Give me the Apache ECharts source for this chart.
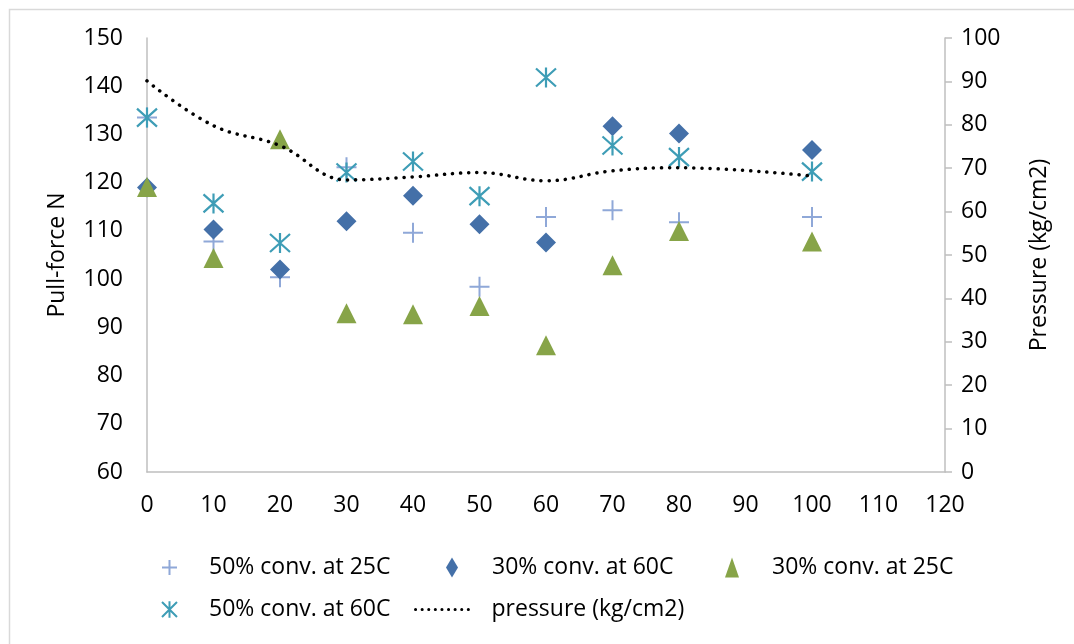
<!DOCTYPE html>
<html>
<head>
<meta charset="utf-8">
<script src="https://cdn.jsdelivr.net/npm/echarts@6/dist/echarts.min.js"></script>
<style>
  html, body { margin: 0; padding: 0; background: #ffffff; }
  #chart { width: 1074px; height: 644px; }
</style>
</head>
<body>
<div id="chart"></div>
<script>
// Fill ratio (x) for every measured run
const xValues = [0, 10, 20, 30, 40, 50, 60, 70, 80, 100];

// Pull-force (N) per run
const conv50at25 = [133.5, 107.8, 100.4, 123.2, 109.6, 98.4, 112.9, 114.3, 111.8, 112.9];
const conv30at60 = [119.0, 110.3, 102.0, 112.0, 117.3, 111.4, 107.6, 131.7, 130.2, 126.8];
const conv30at25 = [119.1, 104.4, 129.0, 92.9, 92.7, 94.4, 86.3, 102.9, 110.0, 107.8];
const conv50at60 = [133.5, 115.7, 107.5, 122.1, 124.4, 117.2, 141.8, 127.7, 125.3, 122.3];

// Applied pressure (kg/cm2), right axis
const pressure = [90.1, 79.8, 75.2, 67.3, 68.0, 69.0, 67.1, 69.4, 70.1, 68.2];

// Axis ranges
const xRange = { min: 0, max: 120, step: 10 };
const forceRange = { min: 60, max: 150, step: 10 };
const pressureRange = { min: 0, max: 100, step: 10 };

const seriesNames = ['50% conv. at 25C', '30% conv. at 60C', '30% conv. at 25C', '50% conv. at 60C', 'pressure (kg/cm2)'];

const pair = (ys) => xValues.map((x, i) => [x, ys[i]]);

const FONT = 'Open Sans';
const axisGray = '#BFBFBF';

const plusPath = 'path://M10,0L10,20M0,10L20,10';
const starPath = 'path://M10,0L10,20M1,1L19,19M19,1L1,19';

function legendFor(name, left, top, w, h, pad, extra) {
  return Object.assign({
    data: [name],
    left: left,
    top: top,
    itemWidth: w,
    itemHeight: h,
    padding: 0,
    textStyle: { fontFamily: FONT, fontSize: 23, color: '#000', padding: [0, 0, 0, pad] }
  }, extra || {});
}

const chart = echarts.init(document.getElementById('chart'), null, { renderer: 'canvas' });

chart.setOption({
  backgroundColor: '#ffffff',
  animation: false,
  graphic: [{
    type: 'rect',
    left: 7, top: 7,
    shape: { width: 1200, height: 800 },
    style: { fill: 'none', stroke: '#D9D9D9', lineWidth: 1.5 },
    silent: true
  }],
  grid: { left: 147, right: 129, top: 38, bottom: 172 },
  xAxis: {
    type: 'value',
    min: xRange.min, max: xRange.max, interval: xRange.step,
    axisLine: { show: true, onZero: false, lineStyle: { color: axisGray, width: 1.5 } },
    axisTick: { show: false },
    splitLine: { show: false },
    axisLabel: { fontFamily: FONT, fontSize: 23, color: '#000', margin: 22 }
  },
  yAxis: [{
    type: 'value',
    position: 'left',
    min: forceRange.min, max: forceRange.max, interval: forceRange.step,
    name: 'Pull-force N',
    nameLocation: 'middle',
    nameGap: 78,
    nameTextStyle: { fontFamily: FONT, fontSize: 23, color: '#000' },
    axisLine: { show: true, lineStyle: { color: axisGray, width: 1.5 } },
    axisTick: { show: false },
    splitLine: { show: false },
    axisLabel: { fontFamily: FONT, fontSize: 23, color: '#000', margin: 24 }
  }, {
    type: 'value',
    position: 'right',
    min: pressureRange.min, max: pressureRange.max, interval: pressureRange.step,
    name: 'Pressure (kg/cm2)',
    nameLocation: 'middle',
    nameGap: 83,
    nameRotate: 90,
    nameTextStyle: { fontFamily: FONT, fontSize: 23, color: '#000' },
    axisLine: { show: true, lineStyle: { color: axisGray, width: 1.5 } },
    axisTick: { show: true, length: 7, inside: false, lineStyle: { color: axisGray, width: 1.5 } },
    splitLine: { show: false },
    axisLabel: { fontFamily: FONT, fontSize: 23, color: '#000', margin: 16 }
  }],
  legend: [
    legendFor(seriesNames[0], 161, 556, 15, 20, 27),
    legendFor(seriesNames[1], 446, 556, 12, 20, 29),
    legendFor(seriesNames[2], 725, 556, 14, 20, 28),
    legendFor(seriesNames[3], 161, 598, 15, 20, 27),
    legendFor(seriesNames[4], 414, 598, 56, 20, 15, {
      itemStyle: { opacity: 0 },
      lineStyle: { type: [0.1, 6.5], width: 3, cap: 'round' }
    })
  ],
  series: [{
    name: seriesNames[0],
    type: 'scatter',
    yAxisIndex: 0,
    data: pair(conv50at25),
    symbol: plusPath,
    symbolSize: 20,
    itemStyle: { color: 'transparent', borderColor: '#8FA8D8', borderWidth: 2, opacity: 1 }
  }, {
    name: seriesNames[1],
    type: 'scatter',
    yAxisIndex: 0,
    data: pair(conv30at60),
    symbol: 'diamond',
    symbolSize: 20,
    itemStyle: { color: '#4470A8', opacity: 1 }
  }, {
    name: seriesNames[2],
    type: 'scatter',
    yAxisIndex: 0,
    data: pair(conv30at25),
    symbol: 'triangle',
    symbolSize: 20,
    itemStyle: { color: '#87A448', opacity: 1 }
  }, {
    name: seriesNames[3],
    type: 'scatter',
    yAxisIndex: 0,
    data: pair(conv50at60),
    symbol: starPath,
    symbolSize: 20,
    itemStyle: { color: 'transparent', borderColor: '#3E9DB6', borderWidth: 2.2, opacity: 1 }
  }, {
    name: seriesNames[4],
    type: 'line',
    yAxisIndex: 1,
    data: pair(pressure),
    smooth: 0.4,
    symbol: 'none',
    itemStyle: { color: '#000' },
    lineStyle: { color: '#000', width: 3.5, type: [0.1, 8], cap: 'round' },
    z: 5
  }]
});
</script>
</body>
</html>
